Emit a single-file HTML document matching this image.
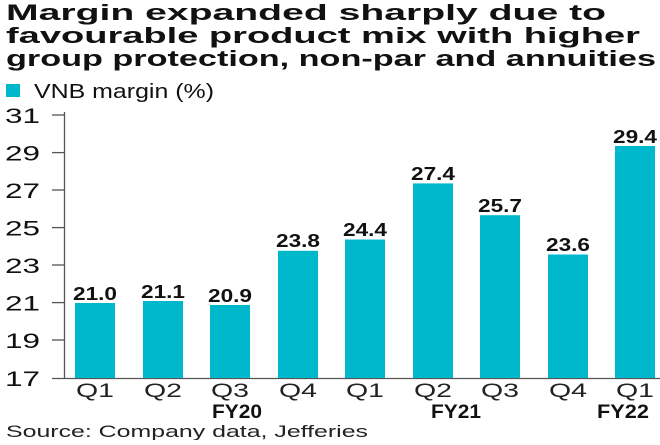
<!DOCTYPE html>
<html><head><meta charset="utf-8"><style>
body{margin:0;width:660px;height:440px;background:#fff;overflow:hidden;font-family:"Liberation Sans",sans-serif}
</style></head><body>
<svg width="660" height="440" xmlns="http://www.w3.org/2000/svg" font-family="Liberation Sans, sans-serif">
<g font-weight="bold" font-size="22" fill="#111">
<text x="6" y="20" textLength="600" lengthAdjust="spacingAndGlyphs">Margin expanded sharply due to</text>
<text x="6" y="43" textLength="634" lengthAdjust="spacingAndGlyphs">favourable product mix with higher</text>
<text x="6" y="66" textLength="650" lengthAdjust="spacingAndGlyphs">group protection, non-par and annuities</text>
</g>
<rect x="6" y="84" width="14" height="13" fill="#00b8cc"/>
<text x="34" y="98" font-size="20" fill="#111" textLength="180" lengthAdjust="spacingAndGlyphs">VNB margin (%)</text>
<line x1="64.5" y1="112" x2="64.5" y2="378" stroke="#555" stroke-width="1.3"/>
<line x1="52" y1="378.5" x2="660" y2="378.5" stroke="#555" stroke-width="1.3"/>
<g stroke="#555" stroke-width="1.3">
<line x1="52" y1="115" x2="64" y2="115"/><line x1="52" y1="152.6" x2="64" y2="152.6"/><line x1="52" y1="190" x2="64" y2="190"/><line x1="52" y1="227.6" x2="64" y2="227.6"/><line x1="52" y1="265" x2="64" y2="265"/><line x1="52" y1="302.6" x2="64" y2="302.6"/><line x1="52" y1="340" x2="64" y2="340"/>
</g>
<g font-size="21" fill="#111">
<text x="5" y="123" textLength="35" lengthAdjust="spacingAndGlyphs">31</text><text x="5" y="160.6" textLength="35" lengthAdjust="spacingAndGlyphs">29</text><text x="5" y="198" textLength="35" lengthAdjust="spacingAndGlyphs">27</text><text x="5" y="235.6" textLength="35" lengthAdjust="spacingAndGlyphs">25</text><text x="5" y="273" textLength="35" lengthAdjust="spacingAndGlyphs">23</text><text x="5" y="310.6" textLength="35" lengthAdjust="spacingAndGlyphs">21</text><text x="5" y="348" textLength="35" lengthAdjust="spacingAndGlyphs">19</text><text x="5" y="386" textLength="35" lengthAdjust="spacingAndGlyphs">17</text>
</g>
<g fill="#00b8cc">
<rect x="75" y="303" width="40" height="75"/>
<rect x="143" y="301" width="40" height="77"/>
<rect x="210" y="305" width="40" height="73"/>
<rect x="278" y="250.8" width="40" height="127.2"/>
<rect x="345" y="239.5" width="40" height="138.5"/>
<rect x="413" y="183.4" width="40" height="194.6"/>
<rect x="480" y="215.2" width="40" height="162.8"/>
<rect x="548" y="254.5" width="40" height="123.5"/>
<rect x="615" y="146" width="40" height="232"/>
</g>
<g font-size="18" font-weight="bold" fill="#111">
<text x="73" y="300" textLength="44" lengthAdjust="spacingAndGlyphs">21.0</text>
<text x="141" y="298" textLength="44" lengthAdjust="spacingAndGlyphs">21.1</text>
<text x="208" y="302" textLength="44" lengthAdjust="spacingAndGlyphs">20.9</text>
<text x="276" y="247" textLength="44" lengthAdjust="spacingAndGlyphs">23.8</text>
<text x="343" y="236" textLength="44" lengthAdjust="spacingAndGlyphs">24.4</text>
<text x="411" y="180" textLength="44" lengthAdjust="spacingAndGlyphs">27.4</text>
<text x="478" y="212" textLength="44" lengthAdjust="spacingAndGlyphs">25.7</text>
<text x="546" y="251" textLength="44" lengthAdjust="spacingAndGlyphs">23.6</text>
<text x="613" y="143" textLength="44" lengthAdjust="spacingAndGlyphs">29.4</text>
</g>
<g font-size="19" fill="#222">
<text x="76" y="397" textLength="38" lengthAdjust="spacingAndGlyphs">Q1</text>
<text x="144" y="397" textLength="38" lengthAdjust="spacingAndGlyphs">Q2</text>
<text x="211" y="397" textLength="38" lengthAdjust="spacingAndGlyphs">Q3</text>
<text x="279" y="397" textLength="38" lengthAdjust="spacingAndGlyphs">Q4</text>
<text x="346" y="397" textLength="38" lengthAdjust="spacingAndGlyphs">Q1</text>
<text x="414" y="397" textLength="38" lengthAdjust="spacingAndGlyphs">Q2</text>
<text x="481" y="397" textLength="38" lengthAdjust="spacingAndGlyphs">Q3</text>
<text x="549" y="397" textLength="38" lengthAdjust="spacingAndGlyphs">Q4</text>
<text x="616" y="397" textLength="38" lengthAdjust="spacingAndGlyphs">Q1</text>
</g>
<g font-size="19" font-weight="bold" fill="#111">
<text x="212" y="418" textLength="50" lengthAdjust="spacingAndGlyphs">FY20</text>
<text x="431" y="418" textLength="50" lengthAdjust="spacingAndGlyphs">FY21</text>
<text x="597" y="418" textLength="52" lengthAdjust="spacingAndGlyphs">FY22</text>
</g>
<text x="6" y="437" font-size="17" fill="#222" textLength="362" lengthAdjust="spacingAndGlyphs">Source: Company data, Jefferies</text>
</svg>
</body></html>
